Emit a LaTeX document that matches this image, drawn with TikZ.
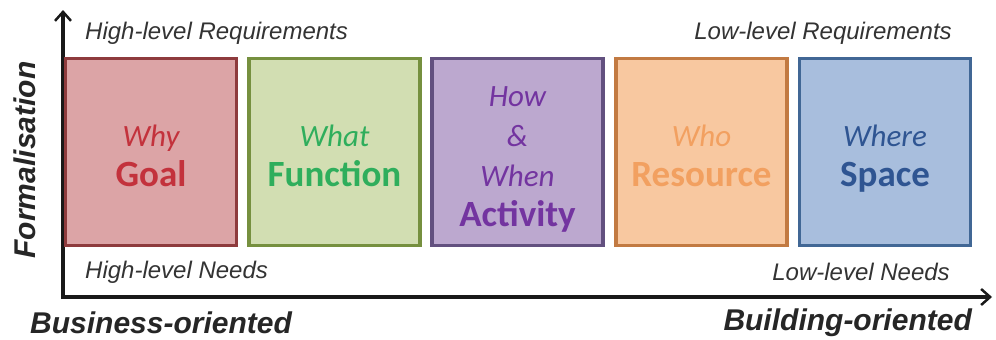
\documentclass[tikz,border=0pt]{standalone}
\usepackage{fontspec}
\setmainfont{Liberation Sans}
\newfontfamily\boxfont{Carlito}
\usetikzlibrary{arrows.meta}
\definecolor{goalfill}{HTML}{DCA4A6}
\definecolor{goaldraw}{HTML}{8E3B3D}
\definecolor{goaltext}{HTML}{C3323C}
\definecolor{funcfill}{HTML}{D2DEB2}
\definecolor{funcdraw}{HTML}{76903F}
\definecolor{functext}{HTML}{2FAE5C}
\definecolor{actfill}{HTML}{BCA8CF}
\definecolor{actdraw}{HTML}{62507F}
\definecolor{acttext}{HTML}{7334A0}
\definecolor{resfill}{HTML}{F8C8A0}
\definecolor{resdraw}{HTML}{C27A42}
\definecolor{restext}{HTML}{F2A060}
\definecolor{spafill}{HTML}{A8BEDD}
\definecolor{spadraw}{HTML}{416795}
\definecolor{spatext}{HTML}{2F5592}
\newcommand\smtxt[1]{{\itshape\vphantom{Hy}#1}}
\newcommand\toptxt[1]{{\itshape\vphantom{Hy}\rule{0pt}{34pt}#1}}
\newcommand\bgtxt[1]{{\fontsize{37}{40}\selectfont\bfseries\vphantom{Gy}#1}}
\tikzset{
  x=1pt, y=-1pt,
  catbox/.style={draw=#1draw, fill=#1fill, text=#1text, line width=3.5pt, rectangle, minimum width=171pt, minimum height=187pt, inner sep=0pt, align=center, font=\boxfont\fontsize{31}{40}\selectfont},
  lbl/.style={font=\fontsize{24}{28}\selectfont\itshape, inner sep=0pt, text=black!80},
  axlbl/.style={font=\fontsize{30}{34}\selectfont\bfseries\itshape, inner sep=0pt, text=black!85},
  axis/.style={line width=3.5pt, draw=black!90, -{Straight Barb[length=9pt,width=16pt,line width=2.5pt]}}
}
\begin{document}
\begin{tikzpicture}
\useasboundingbox (0,0) rectangle (996,340);
\coordinate (ybot) at (63,299);
\coordinate (xbeg) at (61,297);
\coordinate (ytop) at (63,10);
\coordinate (xend) at (992,297);
\draw[axis] (ybot) -- (ytop);
\draw[axis] (xbeg) -- (xend);

\node[catbox=goal] (goal) at (151,152) {\toptxt{Why}\\\bgtxt{Goal}};
\node[catbox=func] (func) at (334.5,152) {\toptxt{What}\\\bgtxt{Function}};
\node[catbox=act] (act) at (517.5,152) {\toptxt{How}\\\smtxt{\&}\\\smtxt{When}\\\bgtxt{Activity}};
\node[catbox=res] (res) at (701.5,152) {\toptxt{Who}\\\bgtxt{Resource}};
\node[catbox=spa] (spa) at (885,152) {\toptxt{Where}\\\bgtxt{Space}};

\node[lbl, anchor=west] (hreq) at (85,33) {High-level Requirements};
\node[lbl, anchor=east] (lreq) at (952,33) {Low-level Requirements};
\node[lbl, anchor=west] (hneed) at (85,272) {High-level Needs};
\node[lbl, anchor=east] (lneed) at (950,272) {Low-level Needs};
\node[axlbl, anchor=west] (bus) at (30,323) {Business-oriented};
\node[axlbl, anchor=east] (bld) at (972,323) {Building-oriented};
\node[axlbl, rotate=90] (form) at (25,160) {Formalisation};
\end{tikzpicture}
\end{document}
